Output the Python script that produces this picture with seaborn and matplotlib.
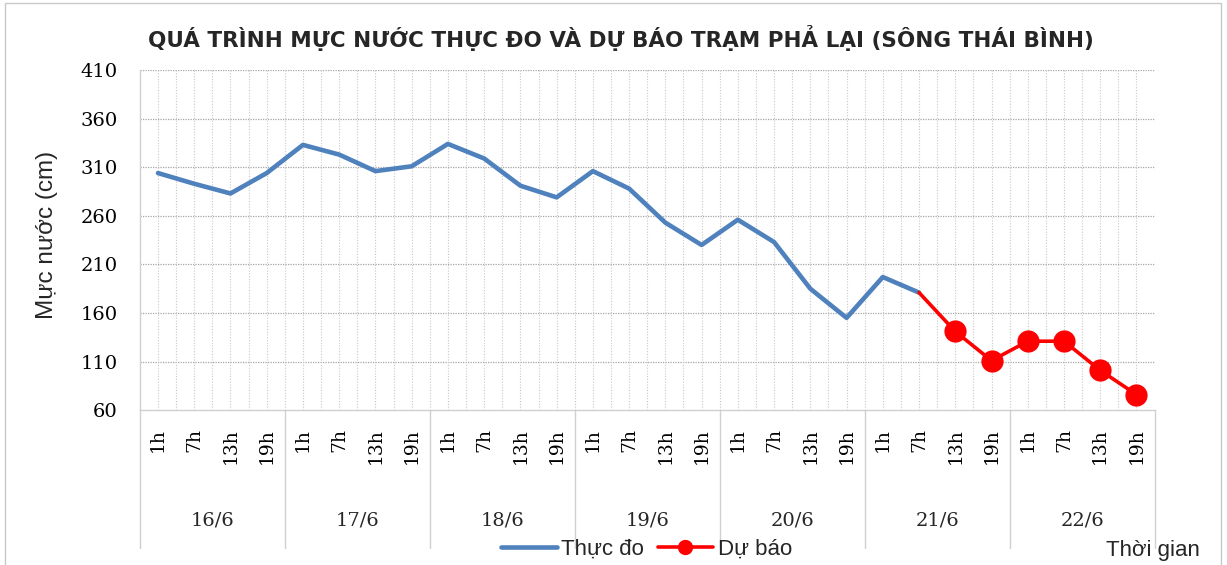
import numpy as np
import pandas as pd
import seaborn as sns
import matplotlib.pyplot as plt
from matplotlib.lines import Line2D
from matplotlib.patches import Rectangle

days = ["16/6", "17/6", "18/6", "19/6", "20/6", "21/6", "22/6"]
hours = ["1h", "7h", "13h", "19h"]
# observed levels, 16/6 1h .. 21/6 7h
observed = [304, 293, 283, 304, 333, 323, 306, 311, 334, 319, 291, 279,
            306, 288, 253, 230, 256, 233, 185, 155, 197, 181]
# forecast, 21/6 7h .. 22/6 19h (first point is the last observed one)
forecast = [181, 141, 111, 131, 131, 101, 76]
yticks = list(range(60, 411, 50))

n = len(days) * len(hours)
obs_df = pd.DataFrame({"t": np.arange(len(observed)), "level": observed})
fc_df = pd.DataFrame({"t": np.arange(len(observed) - 1, n), "level": forecast})

sns.set_theme(style="white")
plt.rcParams["font.family"] = ["DejaVu Sans"]
serif = ["DejaVu Serif"]
sans = ["Liberation Sans", "DejaVu Sans"]

blue = "#4F81BD"
red = "#FF0000"

fig = plt.figure(figsize=(12.27, 5.65), dpi=100)
ax = fig.add_axes([0.114, 0.274, 0.827, 0.602])

sns.lineplot(data=obs_df, x="t", y="level", color=blue, lw=3.3, ax=ax, legend=False)
sns.lineplot(data=fc_df, x="t", y="level", color=red, lw=2.6, marker="o",
             markersize=16, markeredgewidth=0,
             markevery=list(range(1, len(forecast))), ax=ax, legend=False)

ax.set_xlim(-0.5, n - 0.5)
ax.set_ylim(60, 410)
ax.set_yticks(yticks)
ax.set_yticklabels([str(v) for v in yticks], family=serif, fontsize=14)
ax.set_xticks(range(n))
ax.set_xticklabels(hours * len(days), rotation=90, family=serif, fontsize=13.5)
ax.tick_params(axis="both", length=0, colors="black")
ax.tick_params(axis="y", pad=16)
ax.tick_params(axis="x", pad=13)
ax.set_xlabel("")
ax.set_ylabel("")

# grid
for v in yticks[1:]:
    ax.axhline(v, color="#A6A6A6", lw=0.9, ls=(0, (1, 1)), zorder=0)
for x in np.arange(-0.5, n, 0.5)[1:]:
    ax.axvline(x, color="#C8C8C8", lw=0.8, ls=(0, (1, 1.5)), zorder=0)

for s in ["top", "right"]:
    ax.spines[s].set_visible(False)
for s in ["left", "bottom"]:
    ax.spines[s].set_color("#D0D0D0")
    ax.spines[s].set_linewidth(1)

# day separators and labels below the axis
trans = ax.get_xaxis_transform()
for k in range(len(days) + 1):
    ax.plot([-0.5 + 4 * k] * 2, [0, -0.406], transform=trans, color="#D0D0D0",
            lw=1, clip_on=False)
for k, d in enumerate(days):
    ax.text(1.5 + 4 * k, -0.325, d, transform=trans, ha="center", va="center",
            family=serif, fontsize=14)

fig.text(0.506, 0.933, "QUÁ TRÌNH MỰC NƯỚC THỰC ĐO VÀ DỰ BÁO TRẠM PHẢ LẠI (SÔNG THÁI BÌNH)",
         ha="center", va="center", fontsize=15.5, fontweight="bold")
fig.text(0.038, 0.584, "Mực nước (cm)", rotation=90, ha="center", va="center",
         family=sans, fontsize=17.5)
fig.text(0.978, 0.025, "Thời gian", ha="right", va="center", family=sans, fontsize=16)

handles = [Line2D([], [], color=blue, lw=3.3),
           Line2D([], [], color=red, lw=2.6, marker="o", markersize=11, markeredgewidth=0)]
fig.legend(handles, ["Thực đo", "Dự báo"], loc="center", bbox_to_anchor=(0.527, 0.028),
           ncol=2, frameon=False, prop={"family": sans, "size": 16},
           handlelength=2.5, columnspacing=0.6, handletextpad=0.2)

fig.patches.append(Rectangle((0.004, -0.01), 0.991, 1.005, transform=fig.transFigure,
                             fill=False, edgecolor="#C8C8C8", lw=1))

plt.savefig("out.png", dpi=100)
